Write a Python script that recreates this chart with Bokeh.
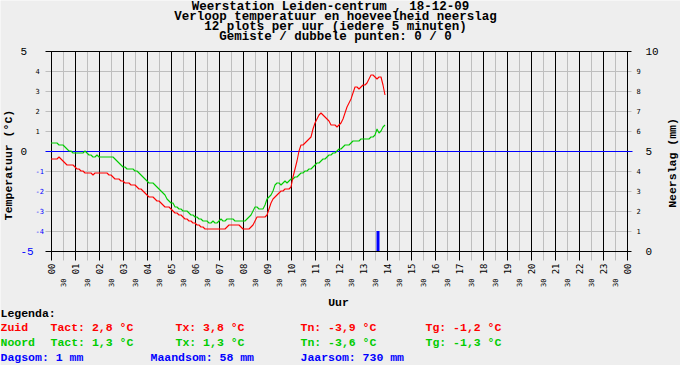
import math
from bokeh.plotting import figure
from bokeh.models import Range1d, FixedTicker, Grid, Label, LabelSet, ColumnDataSource
from bokeh.core.properties import value, field
from bokeh.embed import file_html
from bokeh.resources import INLINE

# ---------------- data ----------------
title_lines = [
    "Weerstation Leiden-centrum , 18-12-09",
    "Verloop temperatuur en hoeveelheid neerslag",
    "12 plots per uur (iedere 5 minuten)",
    "Gemiste / dubbele punten: 0 / 0",
]
sample_minutes = 5
zuid = [
    -0.4, -0.4, -0.4, -0.4, -0.3, -0.4, -0.5, -0.6, -0.7, -0.7, -0.7, -0.7,
    -0.8, -0.9, -0.9, -1.0, -1.0, -1.1, -1.1, -1.1, -1.1, -1.2, -1.1, -1.1,
    -1.1, -1.1, -1.1, -1.1, -1.1, -1.2, -1.2, -1.3, -1.4, -1.4, -1.4, -1.5,
    -1.5, -1.6, -1.6, -1.6, -1.7, -1.7, -1.7, -1.8, -1.9, -1.9, -2.0, -2.1,
    -2.2, -2.3, -2.3, -2.3, -2.4, -2.5, -2.5, -2.6, -2.7, -2.8, -2.8, -2.8,
    -2.9, -3.0, -3.1, -3.1, -3.2, -3.2, -3.3, -3.4, -3.4, -3.5, -3.5, -3.6,
    -3.6, -3.7, -3.7, -3.8, -3.8, -3.9, -3.9, -3.9, -3.9, -3.9, -3.9, -3.9,
    -3.9, -3.9, -3.9, -3.9, -3.8, -3.7, -3.7, -3.7, -3.7, -3.7, -3.7, -3.8,
    -3.9, -3.9, -3.9, -3.9, -3.8, -3.7, -3.5, -3.3, -3.3, -3.3, -3.3, -3.3,
    -3.2, -2.9, -2.6, -2.4, -2.3, -2.2, -2.1, -2.0, -2.0, -1.9, -1.9, -1.9,
    -1.8, -1.3, -0.9, -0.5, 0.0, 0.3, 0.3, 0.4, 0.5, 0.6, 0.7, 1.1,
    1.4, 1.6, 1.8, 1.9, 1.8, 1.7, 1.6, 1.5, 1.3, 1.3, 1.3, 1.2,
    1.3, 1.4, 1.6, 1.9, 2.2, 2.4, 2.6, 2.9, 3.2, 3.2, 3.1, 3.2,
    3.3, 3.3, 3.4, 3.6, 3.8, 3.8, 3.7, 3.6, 3.7, 3.7, 3.3, 2.8,
]
noord = [
    0.4, 0.4, 0.4, 0.4, 0.3, 0.3, 0.3, 0.2, 0.1, 0.0, 0.0, -0.1,
    -0.1, -0.1, -0.1, -0.1, -0.1, 0.0, -0.1, -0.2, -0.2, -0.3, -0.3, -0.2,
    -0.3, -0.3, -0.3, -0.3, -0.3, -0.3, -0.3, -0.3, -0.4, -0.5, -0.6, -0.7,
    -0.8, -0.8, -0.9, -0.9, -0.9, -0.9, -1.0, -1.0, -1.1, -1.2, -1.3, -1.4,
    -1.5, -1.6, -1.6, -1.6, -1.7, -1.8, -1.9, -2.0, -2.1, -2.2, -2.4, -2.5,
    -2.6, -2.6, -2.8, -2.8, -2.9, -2.9, -3.0, -3.0, -3.0, -3.1, -3.2, -3.2,
    -3.3, -3.3, -3.4, -3.4, -3.5, -3.5, -3.5, -3.6, -3.6, -3.5, -3.6, -3.6,
    -3.5, -3.4, -3.5, -3.5, -3.4, -3.4, -3.4, -3.4, -3.5, -3.5, -3.5, -3.5,
    -3.5, -3.5, -3.4, -3.3, -3.2, -3.0, -2.8, -2.8, -2.9, -2.9, -2.9, -2.7,
    -2.4, -2.3, -2.2, -2.0, -1.7, -1.6, -1.6, -1.7, -1.6, -1.5, -1.6, -1.5,
    -1.4, -1.4, -1.3, -1.3, -1.2, -1.1, -1.1, -1.0, -1.0, -0.9, -0.9, -0.8,
    -0.7, -0.6, -0.6, -0.5, -0.4, -0.4, -0.3, -0.2, -0.2, -0.1, -0.1, 0.0,
    0.1, 0.1, 0.2, 0.3, 0.3, 0.3, 0.4, 0.5, 0.5, 0.5, 0.5, 0.6,
    0.6, 0.6, 0.6, 0.6, 0.7, 0.7, 0.8, 1.1, 0.9, 1.0, 1.2, 1.3,
]
rain_hour = [13.625]
rain_mm = [1.0]
hours = list(range(25))
half_hours = [h + 0.5 for h in range(24)]
hour_labels = ["%02d" % (h % 24) for h in hours]
half_label = "30"
temp_ticks = list(range(-5, 6))
temp_big = [5, 0, -5]
temp_small = [4, 3, 2, 1, -1, -2, -3, -4]
rain_big = [10, 5, 0]
rain_small = [9, 8, 7, 6, 4, 3, 2, 1]
zuid_stats = [("Tact", 2.8), ("Tx", 3.8), ("Tn", -3.9), ("Tg", -1.2)]
noord_stats = [("Tact", 1.3), ("Tx", 1.3), ("Tn", -3.6), ("Tg", -1.3)]
rain_stats = [("Dagsom", 1), ("Maandsom", 58), ("Jaarsom", 730)]

# ---------------- style / layout ----------------
BG = "#eeeeee"
GRAY = "#bebebe"
RED = "#ff0000"
GREEN = "#00cc00"
BLUE = "#0000ff"
MONO = "Liberation Mono"
SMALL = "DejaVu Sans Mono"
W, H = 680, 365
X0, PXH = 50.5, 24.0      # pixel of hour 0, pixels per hour
Y0, PXT = 150.5, 20.0     # pixel of 0 degC, pixels per degC
YR0 = 250.5               # pixel of 0 mm

def hx(X):
    return (X - X0) / PXH

def ty(Y):
    return (Y0 - Y) / PXT

def ry(Y):
    return (YR0 - Y) / PXT

t = [i * sample_minutes / 60.0 for i in range(len(zuid))]

p = figure(width=W, height=H, x_range=Range1d(hx(0), hx(W)), y_range=Range1d(ty(H), ty(0)),
           output_backend="svg", toolbar_location=None, x_axis_location=None, y_axis_location=None,
           title_location=None,
           min_border=0, background_fill_color=BG, border_fill_color=BG, outline_line_color=None)
p.extra_y_ranges = {"rain": Range1d(ry(H), ry(0))}
p.xgrid.visible = False
p.ygrid.visible = False

tick_lo = ty(260)      # vertical hour lines run below the frame as ticks
def grid(dim, ticks, color, cross):
    g = Grid(dimension=dim, ticker=FixedTicker(ticks=ticks), grid_line_color=color,
             grid_line_width=1, cross_bounds=cross)
    p.add_layout(g)

grid(0, half_hours, GRAY, (tick_lo, 5))
grid(1, [v for v in temp_ticks if v not in (-5, 0, 5)], GRAY, (hx(45), hx(631)))
grid(0, hours, "black", (tick_lo, 5))
grid(1, [-5, 5], "black", (hx(45), hx(631)))
grid(1, [0], BLUE, (hx(45), hx(632)))

p.line(t, noord, line_color=GREEN, line_width=1.1)
p.line(t, zuid, line_color=RED, line_width=1.1)
p.vbar(x=rain_hour, top=rain_mm, bottom=0, width=0.125, y_range_name="rain",
       fill_color=BLUE, line_color=None)

# ---------------- tick labels ----------------
def labelset(xs, ys, texts, colors, size, font, align="left", baseline="middle",
             angle=0.0, y_range_name="default", bold=False):
    src = ColumnDataSource(dict(x=xs, y=ys, text=texts, color=colors))
    ls = LabelSet(x="x", y="y", text="text", source=src, text_color=field("color"),
                  text_font=value(font), text_font_size=value(size),
                  text_align=align, text_baseline=baseline, angle=angle,
                  y_range_name=y_range_name,
                  text_font_style="bold" if bold else "normal")
    p.add_layout(ls)

labelset([hx(20)] * len(temp_big), temp_big, [str(v) for v in temp_big],
         ["black" if v >= 0 else BLUE for v in temp_big], "11px", MONO)
labelset([hx(35)] * len(temp_small), temp_small, [str(v) for v in temp_small],
         ["black" if v >= 0 else BLUE for v in temp_small], "7px", SMALL)
labelset([hx(645)] * len(rain_big), rain_big, [str(v) for v in rain_big],
         ["black"] * len(rain_big), "11px", MONO, y_range_name="rain")
labelset([hx(636)] * len(rain_small), rain_small, [str(v) for v in rain_small],
         ["black"] * len(rain_small), "7px", SMALL, y_range_name="rain")

labelset(hours, [ty(263)] * len(hours), hour_labels, ["black"] * len(hours), "9px",
         SMALL, align="right", angle=math.pi / 2)
labelset(half_hours, [ty(278)] * len(half_hours), [half_label] * len(half_hours),
         ["black"] * len(half_hours), "7px", SMALL, align="right", angle=math.pi / 2)

def lab(X, Y, text, color="black", size=11.5, align="left", angle=0.0, baseline="alphabetic"):
    if baseline == "alphabetic":
        Y = Y - 0.3 * size   # Bokeh sets the glyph box bottom (descent) at y
    p.add_layout(Label(x=hx(X), y=ty(Y), text=text, text_color=color, text_font=MONO,
                       text_font_size="%.1fpx" % size, text_font_style="bold", text_align=align,
                       text_baseline=baseline, angle=angle))

for i, line in enumerate(title_lines):
    lab(330 if i == 0 else 335, 10.5 + 10 * i, line, size=12.5, align="center")

lab(7.5, 164.5, "Temperatuur (°C)", align="center", angle=math.pi / 2, baseline="middle")
lab(671.5, 162.5, "Neerslag (mm)", align="center", angle=math.pi / 2, baseline="middle")
lab(338, 305.5, "Uur", align="center")

def fmt(v):
    return ("%.1f" % v).replace(".", ",")

lab(0, 316.5, "Legenda:")
cols = [50, 175, 300, 425]
lab(0, 330.5, "Zuid", RED)
for (k, v), X in zip(zuid_stats, cols):
    lab(X, 330.5, "%s: %s °C" % (k, fmt(v)), RED)
lab(0, 345.5, "Noord", GREEN)
for (k, v), X in zip(noord_stats, cols):
    lab(X, 345.5, "%s: %s °C" % (k, fmt(v)), GREEN)
for (k, v), X in zip(rain_stats, [0, 150, 300]):
    lab(X, 360.5, "%s: %d mm" % (k, v), BLUE)

open("out.html", "w").write(file_html(p, INLINE))
